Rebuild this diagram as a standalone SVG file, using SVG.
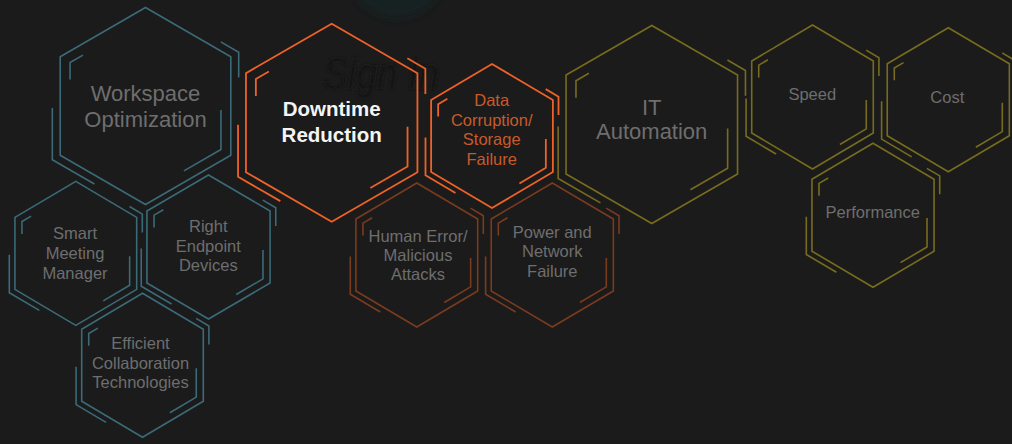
<svg xmlns="http://www.w3.org/2000/svg" xmlns:xlink="http://www.w3.org/1999/xlink" width="1012" height="444" viewBox="0 0 1012 444">
<style>
.hx path{fill:none;vector-effect:non-scaling-stroke;stroke-linecap:butt;stroke-linejoin:miter}
.teal{stroke:#3b6a78;stroke-width:1.6}
.org{stroke:#ee6228;stroke-width:1.8}
.brn{stroke:#7a3b1f;stroke-width:1.6}
.olv{stroke:#776c1e;stroke-width:1.6}
text{font-family:"Liberation Sans",Arial,sans-serif;text-anchor:middle}
.lbl{fill:#6e6e6e;font-size:16.5px}
.big{fill:#6e6e6e;font-size:22px}
.hot{fill:#f4f4f4;font-size:20.5px;font-weight:bold}
.olbl{fill:#c85a2a;font-size:16.5px}
</style>
<defs>
<g id="hex" class="hx">
<path d="M0,-100 L86.6,-50 L86.6,50 L0,100 L-86.6,50 L-86.6,-50 Z"/>
<path d="M-63.5,-51.7 L-76.6,-44.2 L-76.6,-27"/>
<path d="M76.6,4 L76.6,44.2 L39,65.9"/>
<path d="M76.4,-65.1 L94.6,-54.6 L94.6,-29"/>
<path d="M-94.6,2 L-94.6,54.6 L-51.9,79.2"/>
</g>
<filter id="soft" x="-20%" y="-20%" width="140%" height="140%"><feGaussianBlur stdDeviation="1.8"/></filter>
<filter id="soft2" x="-50%" y="-50%" width="200%" height="200%"><feGaussianBlur stdDeviation="4"/></filter>
</defs>
<rect x="0" y="0" width="1012" height="444" fill="#1b1b1b"/>
<g id="background">
<circle cx="397" cy="-32" r="50" fill="#172023" filter="url(#soft2)"/>
<text x="381" y="89" font-style="italic" font-size="44" fill="#131313" filter="url(#soft)" textLength="116" lengthAdjust="spacingAndGlyphs">Sign In</text>
</g>
<g id="connectors"/>
<g id="workspace-optimization">
<use xlink:href="#hex" href="#hex" class="teal" transform="translate(145.5,106) scale(0.985)"/>
<text class="big" x="145.5" y="101">Workspace</text>
<text class="big" x="145.5" y="127">Optimization</text>
</g>
<g id="smart-meeting-manager">
<use xlink:href="#hex" href="#hex" class="teal" transform="translate(75.8,253.4) scale(0.703,0.72)"/>
<text class="lbl" x="75" y="239.3">Smart</text>
<text class="lbl" x="75" y="259">Meeting</text>
<text class="lbl" x="75" y="278.5">Manager</text>
</g>
<g id="right-endpoint-devices">
<use xlink:href="#hex" href="#hex" class="teal" transform="translate(208.5,247) scale(0.711,0.72)"/>
<text class="lbl" x="208.3" y="231.7">Right</text>
<text class="lbl" x="208.3" y="251.5">Endpoint</text>
<text class="lbl" x="208.3" y="270.7">Devices</text>
</g>
<g id="efficient-collaboration-technologies">
<use xlink:href="#hex" href="#hex" class="teal" transform="translate(142.5,365.3) scale(0.702,0.72)"/>
<text class="lbl" x="140.5" y="349">Efficient</text>
<text class="lbl" x="140.5" y="368.5">Collaboration</text>
<text class="lbl" x="140.5" y="387.5">Technologies</text>
</g>
<g id="downtime-reduction">
<use xlink:href="#hex" href="#hex" class="org" transform="translate(331.7,122.7) scale(0.99)"/>
<text class="hot" x="331.7" y="116">Downtime</text>
<text class="hot" x="331.7" y="142.3">Reduction</text>
</g>
<g id="data-corruption">
<use xlink:href="#hex" href="#hex" class="org" transform="translate(492,136) scale(0.703,0.72)"/>
<text class="olbl" x="491.7" y="105.7">Data</text>
<text class="olbl" x="491.7" y="126">Corruption/</text>
<text class="olbl" x="491.7" y="145">Storage</text>
<text class="olbl" x="491.7" y="165">Failure</text>
</g>
<g id="human-error">
<use xlink:href="#hex" href="#hex" class="brn" transform="translate(416.8,255) scale(0.703,0.72)"/>
<text class="lbl" x="418" y="241.7">Human Error/</text>
<text class="lbl" x="418" y="261">Malicious</text>
<text class="lbl" x="418" y="280">Attacks</text>
</g>
<g id="power-network-failure">
<use xlink:href="#hex" href="#hex" class="brn" transform="translate(552.3,255) scale(0.705,0.72)"/>
<text class="lbl" x="552.3" y="238.3">Power and</text>
<text class="lbl" x="552.3" y="257.3">Network</text>
<text class="lbl" x="552.3" y="276.7">Failure</text>
</g>
<g id="it-automation">
<use xlink:href="#hex" href="#hex" class="olv" transform="translate(651.8,124.5) scale(0.99)"/>
<text class="big" x="651.7" y="115">IT</text>
<text class="big" x="651.7" y="139.3">Automation</text>
</g>
<g id="speed">
<use xlink:href="#hex" href="#hex" class="olv" transform="translate(812.5,97) scale(0.702,0.72)"/>
<text class="lbl" x="812.3" y="100">Speed</text>
</g>
<g id="cost">
<use xlink:href="#hex" href="#hex" class="olv" transform="translate(948.3,99.8) scale(0.705,0.72)"/>
<text class="lbl" x="947.3" y="103.3">Cost</text>
</g>
<g id="performance">
<use xlink:href="#hex" href="#hex" class="olv" transform="translate(873,215.2) scale(0.705,0.72)"/>
<text class="lbl" x="872.7" y="218.3">Performance</text>
</g>
</svg>
